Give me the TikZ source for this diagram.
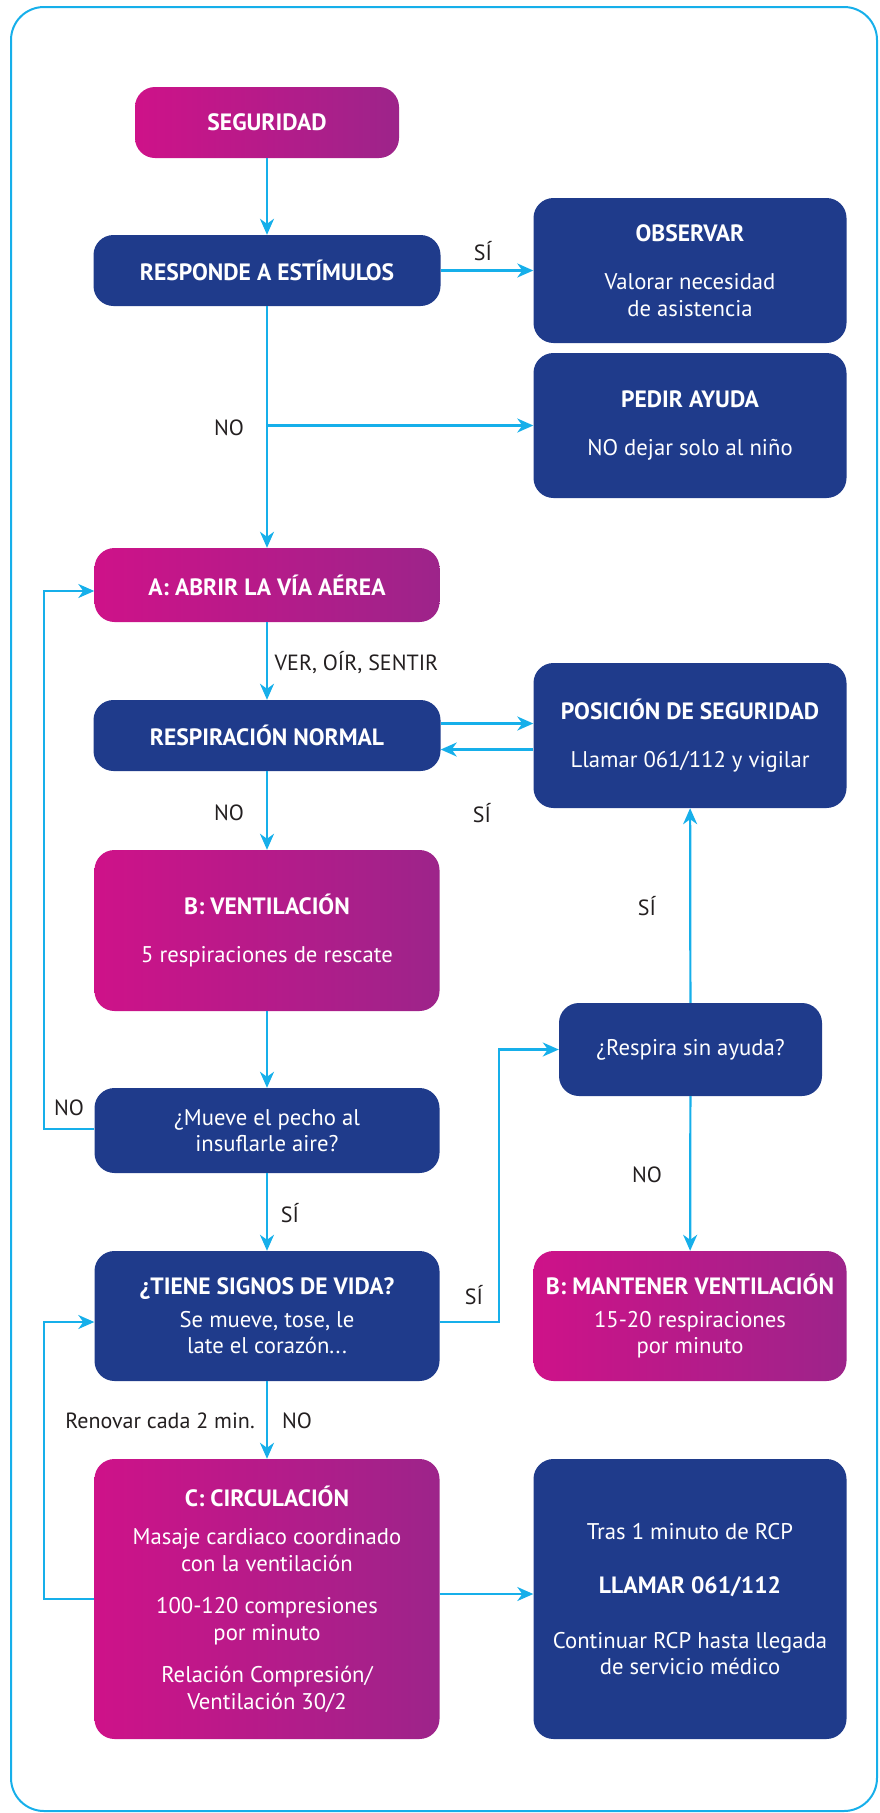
\documentclass[tikz,border=0pt]{standalone}
\usepackage{fontspec}
\setmainfont{PT Sans}
\usetikzlibrary{arrows.meta,calc}
\definecolor{dblue}{RGB}{31,59,139}
\definecolor{magL}{RGB}{206,18,137}
\definecolor{magR}{RGB}{157,36,138}
\definecolor{lblue}{RGB}{22,175,234}
\definecolor{txt}{RGB}{35,31,32}
\newcommand\ttl[1]{{\fontsize{23.6}{26.5}\selectfont\bfseries #1}}
\begin{document}
\begin{tikzpicture}[x=1pt,y=-1pt,
  box/.style={rounded corners=20pt, inner sep=0pt, align=center, text=white,
    font=\fontsize{22.7}{26.5}\selectfont},
  bluebox/.style={box, fill=dblue},
  magbox/.style={box, left color=magL, right color=magR},
  conn/.style={draw=lblue, line width=2.2pt, -{Stealth[length=16pt,width=14pt,inset=5pt]}},
  lbl/.style={text=txt, font=\fontsize{22}{26.5}\selectfont, inner sep=0pt}]
\useasboundingbox (0,0) rectangle (879,1813);
\draw[lblue, line width=2pt, rounded corners=33pt] (11,7) rectangle (877,1811);

\node[magbox, minimum width=264pt, minimum height=71pt] (seg) at (267,122.5) {\ttl{SEGURIDAD}};
\node[bluebox, minimum width=347pt, minimum height=71pt] (resp) at (267,270.5) {\ttl{RESPONDE A ESTÍMULOS}};
\node[bluebox, minimum width=313pt, minimum height=145pt] (obs) at (690,270.5) {\ttl{OBSERVAR}\\[22pt]Valorar necesidad\\de asistencia};
\node[bluebox, minimum width=313pt, minimum height=145pt] (ped) at (690,425.5) {\ttl{PEDIR AYUDA}\\[22pt]NO dejar solo al niño};
\node[magbox, minimum width=345pt, minimum height=74pt] (abrir) at (267,585) {\ttl{A: ABRIR LA VÍA AÉREA}};
\node[bluebox, minimum width=347pt, minimum height=71pt] (rnorm) at (267,735.5) {\ttl{RESPIRACIÓN NORMAL}};
\node[bluebox, minimum width=313pt, minimum height=145pt] (pos) at (690,735.5) {\ttl{POSICIÓN DE SEGURIDAD}\\[22pt]Llamar 061/112 y vigilar};
\node[magbox, minimum width=345pt, minimum height=161pt] (bvent) at (267,930.5) {\ttl{B: VENTILACIÓN}\\[22pt]5 respiraciones de rescate};
\node[bluebox, minimum width=263pt, minimum height=93pt] (respira) at (690.5,1049.5) {¿Respira sin ayuda?};
\node[bluebox, minimum width=345pt, minimum height=85pt] (mueve) at (267,1130.5) {¿Mueve el pecho al\\insuflarle aire?};
\node[bluebox, minimum width=345pt, minimum height=130pt] (tiene) at (267,1316) {\ttl{¿TIENE SIGNOS DE VIDA?}\\[6pt]Se mueve, tose, le\\late el corazón...};
\node[magbox, minimum width=313pt, minimum height=130pt] (mant) at (690,1316) {\ttl{B: MANTENER VENTILACIÓN}\\[6pt]15-20 respiraciones\\por minuto};
\node[magbox, minimum width=345pt, minimum height=280pt] (circ) at (267,1599) {\ttl{C: CIRCULACIÓN}\\[12pt]Masaje cardiaco coordinado\\con la ventilación\\[16pt]100-120 compresiones\\por minuto\\[16pt]Relación Compresión/\\Ventilación 30/2};
\node[bluebox, minimum width=313pt, minimum height=280pt] (tras) at (690,1599) {Tras 1 minuto de RCP\\[28pt]\ttl{LLAMAR 061/112}\\[28pt]Continuar RCP hasta llegada\\de servicio médico};

\coordinate (br) at (267,425.5);

\draw[conn] (seg) -- (resp);
\draw[conn] (resp) -- (obs);
\draw[conn] (resp) -- (abrir);
\draw[conn] (br) -- (ped);
\draw[conn] (abrir) -- (rnorm);
\draw[conn] ([yshift=12pt]rnorm.east) -- ([yshift=12pt]pos.west);
\draw[conn] ([yshift=-14pt]pos.west) -- ([yshift=-14pt]rnorm.east);
\draw[conn] (rnorm) -- (bvent);
\draw[conn] (bvent) -- (mueve);
\draw[conn] (mueve) -- (tiene);
\draw[conn] (tiene) -- (circ);
\draw[conn] ([yshift=1.5pt]mueve.west) -- ++(-50,0) |- ([yshift=-6pt]abrir.west);
\draw[conn] (circ.west) -- ++(-50,0) |- ([yshift=-6pt]tiene.west);
\draw[conn] ([yshift=-6pt]tiene.east) -- ++(59.5,0) |- (respira.west);
\draw[conn] (respira) -- (pos);
\draw[conn] (respira) -- (mant);
\draw[conn] ([yshift=5pt]circ.east) -- ([yshift=5pt]tras.west);

\node[lbl] (l1) at (483,251) {SÍ};
\node[lbl] (l2) at (229,428) {NO};
\node[lbl] (l3) at (356.5,663) {VER, OÍR, SENTIR};
\node[lbl] (l4) at (229,813) {NO};
\node[lbl] (l5) at (482,813) {SÍ};
\node[lbl] (l6) at (647,906) {SÍ};
\node[lbl] (l7) at (69,1108) {NO};
\node[lbl] (l8) at (647,1175) {NO};
\node[lbl] (l9) at (290,1213) {SÍ};
\node[lbl] (l10) at (474,1295) {SÍ};
\node[lbl] (l11) at (160,1421) {Renovar cada 2 min.};
\node[lbl] (l12) at (297,1421) {NO};
\end{tikzpicture}
\end{document}
